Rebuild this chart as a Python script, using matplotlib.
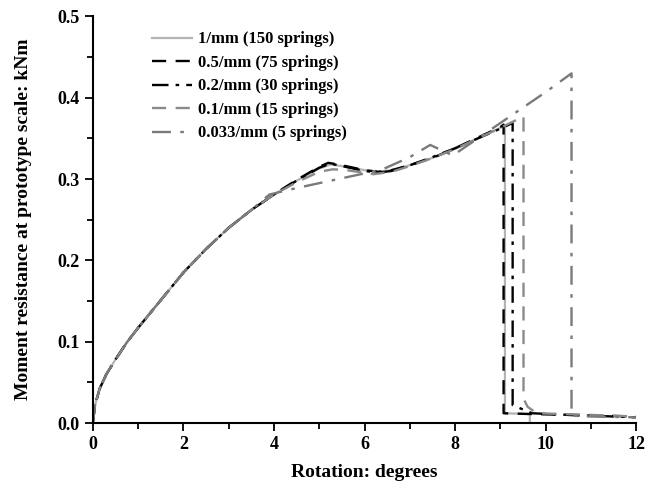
import matplotlib
matplotlib.use("Agg")
import matplotlib.pyplot as plt
from matplotlib.ticker import MultipleLocator

plt.rcParams['font.family'] = 'Liberation Serif'
plt.rcParams['font.weight'] = 'bold'

# rising part shared by the fine models
x_rise = [0, 0.05, 0.15, 0.3, 0.5, 0.75, 1.0, 1.5, 2.0, 2.5, 3.0, 3.5, 4.0]
y_rise = [0, 0.022, 0.042, 0.06, 0.078, 0.099, 0.117, 0.151, 0.185, 0.214, 0.24, 0.262, 0.281]

# 1/mm (150 springs)
x_1 = x_rise + [4.5, 5.0, 5.25, 5.5, 6.0, 6.3, 6.6, 7.0, 7.5, 8.0, 8.5, 9.0, 9.1, 9.1, 9.65, 9.65]
y_1 = y_rise + [0.298, 0.313, 0.318, 0.316, 0.311, 0.309, 0.311, 0.317, 0.326, 0.337, 0.35, 0.363, 0.366, 0.012, 0.011, 0.0]

# 0.5/mm (75 springs)
x_05 = x_rise + [4.5, 5.0, 5.2, 5.5, 6.0, 6.3, 6.6, 7.0, 7.5, 8.0, 8.5, 9.0, 9.07, 9.07, 9.7, 10.5, 12.0]
y_05 = y_rise + [0.299, 0.315, 0.32, 0.317, 0.311, 0.309, 0.311, 0.317, 0.326, 0.338, 0.351, 0.364, 0.367, 0.012, 0.011, 0.01, 0.008]

# 0.2/mm (30 springs)
x_02 = x_rise + [4.5, 5.0, 5.25, 5.5, 6.0, 6.3, 6.6, 7.0, 7.5, 8.0, 8.5, 9.0, 9.27, 9.27, 9.7, 10.5, 12.0]
y_02 = y_rise + [0.298, 0.314, 0.319, 0.316, 0.31, 0.308, 0.31, 0.317, 0.327, 0.338, 0.35, 0.362, 0.369, 0.022, 0.012, 0.01, 0.007]

# 0.1/mm (15 springs)
x_01 = x_rise + [4.5, 5.0, 5.3, 5.6, 6.2, 6.6, 7.0, 7.5, 8.0, 8.5, 9.0, 9.51, 9.51, 9.6, 9.8, 11.0, 12.0]
y_01 = y_rise + [0.296, 0.309, 0.312, 0.311, 0.306, 0.309, 0.316, 0.326, 0.337, 0.35, 0.363, 0.377, 0.03, 0.02, 0.012, 0.01, 0.008]

# 0.033/mm (5 springs)
x_0033 = x_rise[:-1] + [3.9, 4.5, 5.0, 5.5, 6.0, 6.4, 7.0, 7.45, 7.95, 9.0, 10.0, 10.57, 10.57, 11.0, 12.0]
y_0033 = y_rise[:-1] + [0.281, 0.289, 0.295, 0.301, 0.307, 0.312, 0.327, 0.342, 0.329, 0.369, 0.407, 0.43, 0.009, 0.008, 0.007]

fig = plt.figure(figsize=(6.58, 4.84), dpi=100)
ax = fig.add_axes([0.141, 0.126, 0.826, 0.84])

ax.plot(x_1, y_1, color='#b4b4b4', lw=1.6, ls='-', label='1/mm (150 springs)')
ax.plot(x_05, y_05, color='black', lw=1.7, ls=(0, (6, 4)), label='0.5/mm (75 springs)')
ax.plot(x_02, y_02, color='black', lw=1.7, ls=(0, (7, 3, 1.5, 3)), label='0.2/mm (30 springs)')
ax.plot(x_01, y_01, color='#8a8a8a', lw=1.7, ls=(0, (6, 4)), label='0.1/mm (15 springs)')
ax.plot(x_0033, y_0033, color='#7a7a7a', lw=1.7, ls=(0, (8, 4, 1.5, 4)), label='0.033/mm (5 springs)')

ax.set_xlim(0, 12)
ax.set_ylim(0, 0.5)
ax.xaxis.set_major_locator(MultipleLocator(2))
ax.xaxis.set_minor_locator(MultipleLocator(1))
ax.yaxis.set_major_locator(MultipleLocator(0.1))
ax.yaxis.set_minor_locator(MultipleLocator(0.05))
ax.spines['top'].set_visible(False)
ax.spines['right'].set_visible(False)
ax.spines['left'].set_linewidth(1.5)
ax.spines['bottom'].set_linewidth(1.5)
ax.tick_params(which='major', direction='out', length=6, width=1.3, labelsize=13)
ax.tick_params(which='minor', direction='out', length=4, width=1.3)
ax.set_yticklabels(['%.1f' % v for v in ax.get_yticks()])
ax.set_xticklabels(['%d' % v for v in ax.get_xticks()])

ax.set_xlabel('Rotation: degrees', fontsize=14, fontweight='bold', labelpad=8)
ax.set_ylabel('Moment resistance at prototype scale: kNm', fontsize=14, fontweight='bold', labelpad=18)

ax.legend(loc='upper left', bbox_to_anchor=(0.082, 1.0), frameon=False,
          handlelength=2.4, handletextpad=0.35, labelspacing=0.45,
          prop={'family': 'Liberation Serif', 'weight': 'bold', 'size': 12})

fig.savefig('out.png', dpi=100)
